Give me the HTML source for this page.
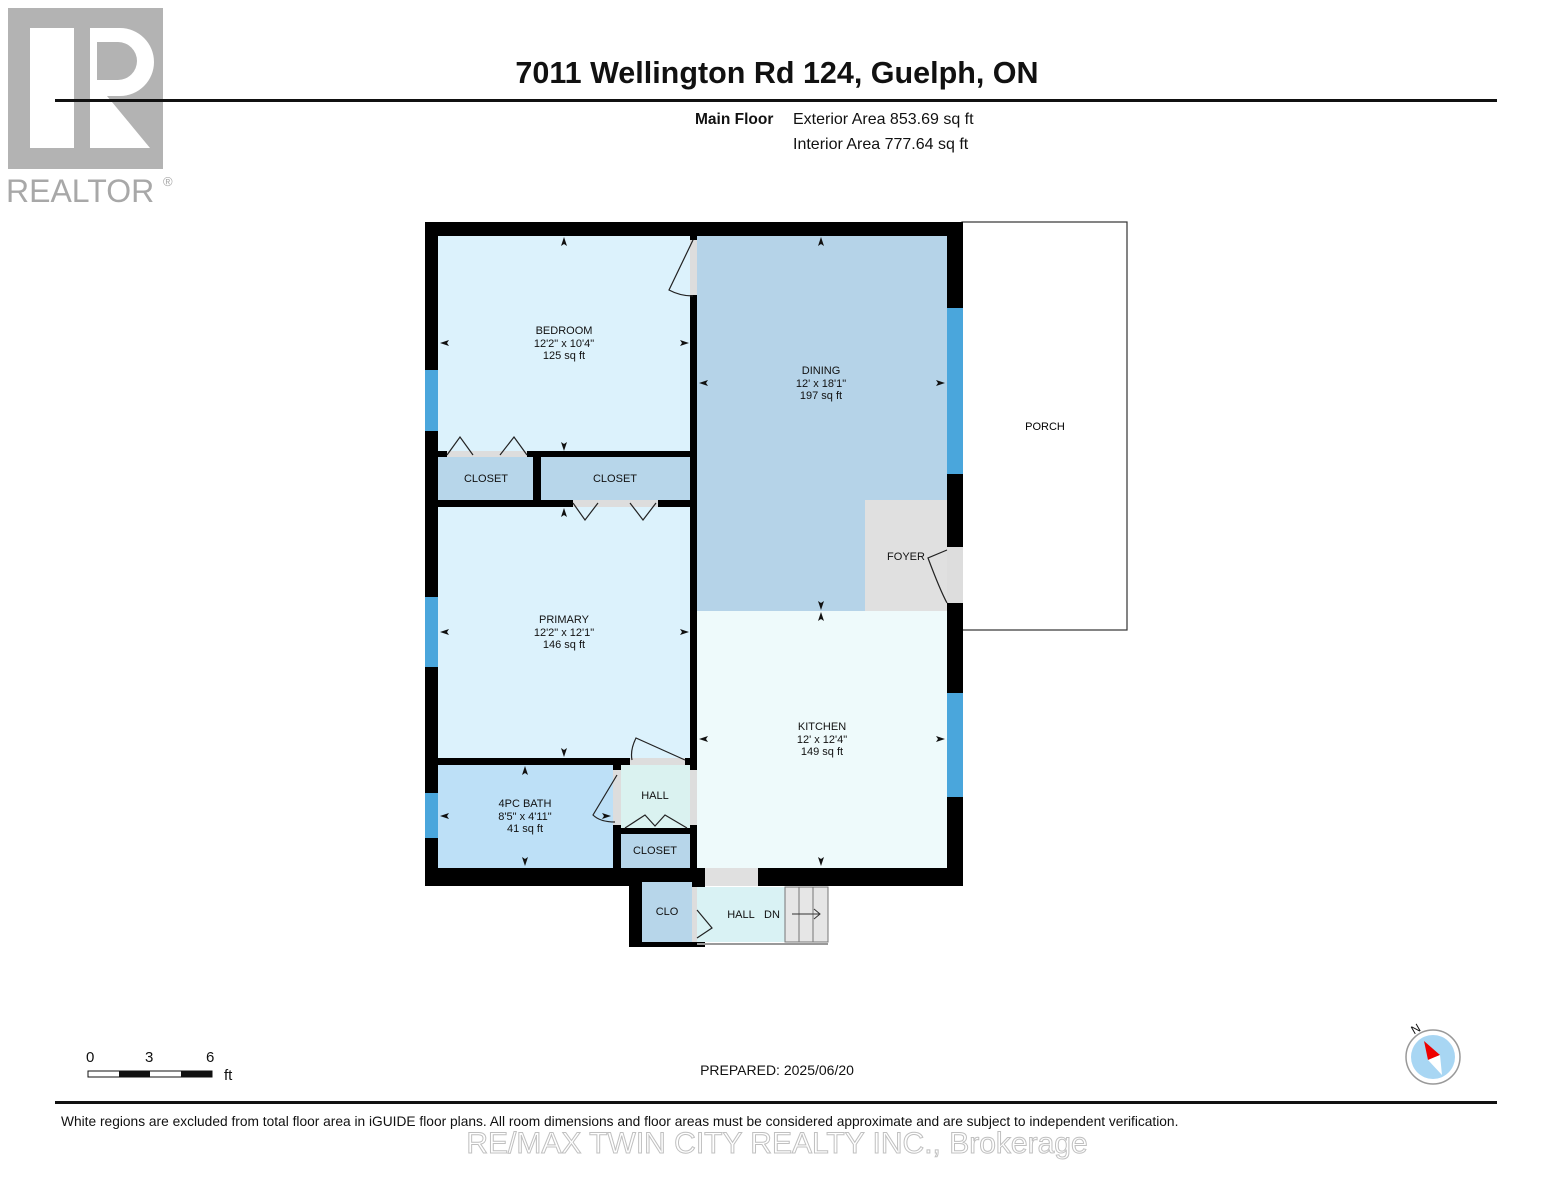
<!DOCTYPE html>
<html><head><meta charset="utf-8"><style>
html,body{margin:0;padding:0;background:#fff;width:1553px;height:1200px;overflow:hidden}
svg{display:block}
text{font-family:"Liberation Sans",Arial,sans-serif}
</style></head><body>
<svg width="1553" height="1200" viewBox="0 0 1553 1200">
<rect x="8" y="8" width="155" height="161" fill="#b3b3b3"/>
<rect x="30" y="28" width="44" height="120" fill="#fff"/>
<path d="M90 28 H120 A34 34 0 0 1 120 96 H107 L150 148 H90 Z" fill="#fff"/>
<path d="M97 42 H118 A18 18 0 0 1 118 80 H97 Z" fill="#b3b3b3"/>
<text x="6" y="202" font-size="32" fill="#a8a8a8">REALTOR</text>
<text x="163" y="186" font-size="13" fill="#a8a8a8">®</text>
<text x="777" y="83" font-size="30.5" font-weight="bold" text-anchor="middle" fill="#111">7011 Wellington Rd 124, Guelph, ON</text>
<rect x="55" y="99" width="1442" height="3" fill="#111"/>
<text x="695" y="124" font-size="15.5" font-weight="bold" fill="#111">Main Floor</text>
<text x="793" y="124" font-size="16" fill="#111">Exterior Area 853.69 sq ft</text>
<text x="793" y="149" font-size="16" fill="#111">Interior Area 777.64 sq ft</text>
<rect x="962" y="222" width="165" height="408" fill="#fff" stroke="#333" stroke-width="1.2"/>
<text x="1045" y="430" font-size="11" text-anchor="middle">PORCH</text>
<rect x="425" y="222" width="538" height="664" fill="#000"/>
<rect x="629" y="880" width="76" height="67" fill="#000"/>
<rect x="438" y="236" width="252" height="215" fill="#dcf2fc"/>
<rect x="438" y="457" width="95" height="43" fill="#b7d6ea"/>
<rect x="541" y="457" width="149" height="43" fill="#b7d6ea"/>
<rect x="438" y="507" width="252" height="251" fill="#dcf2fc"/>
<rect x="438" y="765" width="175" height="103" fill="#bde0f7"/>
<rect x="621" y="765" width="69" height="63" fill="#daf2f0"/>
<rect x="621" y="834" width="69" height="34" fill="#b7d6ea"/>
<rect x="697" y="236" width="250" height="375" fill="#b5d3e8"/>
<rect x="865" y="500" width="82" height="111" fill="#e0e0e0"/>
<rect x="697" y="611" width="250" height="257" fill="#eefafb"/>
<rect x="642" y="882" width="50" height="60" fill="#b7d6ea"/>
<rect x="697" y="887" width="88" height="55" fill="#d9f2f4"/>
<rect x="705" y="868" width="53" height="18" fill="#e0e0e0"/>
<rect x="785" y="887" width="43" height="55" fill="#e6e6e6" stroke="#777" stroke-width="1"/>
<line x1="799" y1="887" x2="799" y2="942" stroke="#777"/><line x1="813" y1="887" x2="813" y2="942" stroke="#777"/>
<line x1="697" y1="944" x2="828" y2="944" stroke="#999" stroke-width="2"/>
<line x1="792" y1="914" x2="820" y2="914" stroke="#333"/><path d="M814 909 L820 914 L814 919" fill="none" stroke="#333"/>
<rect x="690" y="240" width="7" height="55" fill="#ddd"/>
<rect x="947" y="547" width="16" height="56" fill="#ddd"/>
<rect x="447" y="451" width="80" height="6" fill="#ddd"/>
<rect x="573" y="500" width="85" height="7" fill="#ddd"/>
<rect x="613" y="770" width="8" height="55" fill="#ddd"/>
<rect x="630" y="758" width="55" height="7" fill="#ddd"/>
<rect x="690" y="770" width="7" height="55" fill="#ddd"/>
<rect x="692" y="887" width="5" height="55" fill="#ddd"/>
<g fill="none" stroke="#222" stroke-width="1.2">
<path d="M693 240 L669 290 Q680 296 693 296"/>
<path d="M947 550 L928 558 Q940 590 947 603"/>
<path d="M447 455 L460 437 L473 455 M500 455 L514 437 L527 455"/>
<path d="M573 503 L585 520 L598 503 M630 503 L643 520 L656 503"/>
<path d="M685 760 L636 738 Q630 750 632 760"/>
<path d="M617 775 L593 815 Q600 822 615 822"/>
<path d="M625 828 L645 815 L655 826 L665 815 L687 828"/>
<path d="M697 910 L712 928 L697 938"/>
</g>
<g fill="#4aa6dc">
<rect x="425" y="370" width="13" height="61"/><rect x="425" y="597" width="13" height="70"/><rect x="425" y="793" width="13" height="45"/>
<rect x="947" y="308" width="16" height="166"/><rect x="947" y="693" width="16" height="104"/>
</g>
<g font-size="11" text-anchor="middle" fill="#111">
<text x="564" y="334">BEDROOM</text><text x="564" y="347">12'2" x 10'4"</text><text x="564" y="359">125 sq ft</text>
<text x="486" y="482">CLOSET</text><text x="615" y="482">CLOSET</text>
<text x="821" y="374">DINING</text><text x="821" y="387">12' x 18'1"</text><text x="821" y="399">197 sq ft</text>
<text x="906" y="560">FOYER</text>
<text x="564" y="623">PRIMARY</text><text x="564" y="636">12'2" x 12'1"</text><text x="564" y="648">146 sq ft</text>
<text x="822" y="730">KITCHEN</text><text x="822" y="743">12' x 12'4"</text><text x="822" y="755">149 sq ft</text>
<text x="525" y="807">4PC BATH</text><text x="525" y="820">8'5" x 4'11"</text><text x="525" y="832">41 sq ft</text>
<text x="655" y="799">HALL</text><text x="655" y="854">CLOSET</text><text x="667" y="915">CLO</text>
<text x="741" y="918">HALL</text><text x="772" y="918">DN</text>
</g>
<g fill="#111">
<path d="M564 237 l-3 9 l3 -2 l3 2z"/><path d="M564 451 l-3 -9 l3 2 l3 -2z"/>
<path d="M440 343 l9 -3 l-2 3 l2 3z"/><path d="M689 343 l-9 -3 l2 3 l-2 3z"/>
<path d="M821 237 l-3 9 l3 -2 l3 2z"/><path d="M821 610 l-3 -9 l3 2 l3 -2z"/>
<path d="M699 383 l9 -3 l-2 3 l2 3z"/><path d="M945 383 l-9 -3 l2 3 l-2 3z"/>
<path d="M564 508 l-3 9 l3 -2 l3 2z"/><path d="M564 757 l-3 -9 l3 2 l3 -2z"/>
<path d="M440 632 l9 -3 l-2 3 l2 3z"/><path d="M689 632 l-9 -3 l2 3 l-2 3z"/>
<path d="M821 612 l-3 9 l3 -2 l3 2z"/><path d="M821 866 l-3 -9 l3 2 l3 -2z"/>
<path d="M699 739 l9 -3 l-2 3 l2 3z"/><path d="M945 739 l-9 -3 l2 3 l-2 3z"/>
<path d="M525 766 l-3 9 l3 -2 l3 2z"/><path d="M525 866 l-3 -9 l3 2 l3 -2z"/>
<path d="M440 816 l9 -3 l-2 3 l2 3z"/><path d="M611 816 l-9 -3 l2 3 l-2 3z"/>
</g>
<g font-size="15" fill="#111"><text x="86" y="1062">0</text><text x="145" y="1062">3</text><text x="206" y="1062">6</text><text x="224" y="1080">ft</text></g>
<rect x="88" y="1071" width="124" height="6" fill="#fff" stroke="#111"/>
<rect x="119" y="1071" width="31" height="6" fill="#111"/><rect x="181" y="1071" width="31" height="6" fill="#111"/>
<text x="777" y="1075" font-size="14" text-anchor="middle" fill="#111">PREPARED: 2025/06/20</text>
<circle cx="1433" cy="1057" r="27" fill="#fff" stroke="#999" stroke-width="1.5"/>
<circle cx="1433" cy="1057" r="22" fill="#a8d6f3"/>
<path d="M1424 1041 L1440 1055 L1428 1060 Z" fill="#e00"/>
<path d="M1428 1060 L1440 1055 L1442 1075 Z" fill="#fff"/>
<text x="1412" y="1033" font-size="12" fill="#111" transform="rotate(-30 1416 1030)">N</text>
<rect x="55" y="1101" width="1442" height="3" fill="#111"/>
<text x="61" y="1126" font-size="13.75" fill="#111">White regions are excluded from total floor area in iGUIDE floor plans. All room dimensions and floor areas must be considered approximate and are subject to independent verification.</text>
<text x="777" y="1153" font-size="30" text-anchor="middle" fill="#fff" stroke="#c0c0c0" stroke-width="1">RE/MAX TWIN CITY REALTY INC., Brokerage</text>
</svg>
</body></html>
